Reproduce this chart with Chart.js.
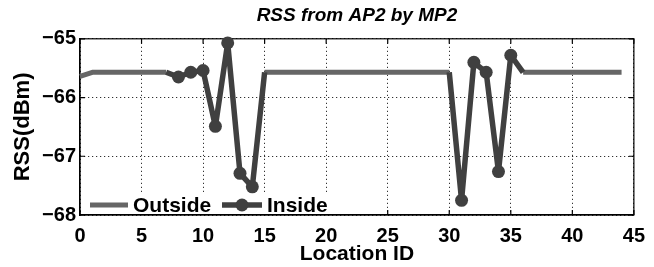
<!DOCTYPE html>
<html>
<head>
<meta charset="utf-8">
<script src="https://cdn.jsdelivr.net/npm/chart.js@4"></script>
<style>
  html, body { margin: 0; padding: 0; background: #fff; }
  #wrap { width: 654px; height: 267px; }
</style>
</head>
<body>
<div id="wrap"><canvas id="rssChart"></canvas></div>
<script>
// Location IDs 0..44
const locationIds = [0, 1, 2, 3, 4, 5, 6, 7, 8, 9, 10, 11, 12, 13, 14, 15, 16, 17, 18, 19, 20, 21,
    22, 23, 24, 25, 26, 27, 28, 29, 30, 31, 32, 33, 34, 35, 36, 37, 38, 39, 40, 41, 42, 43, 44];

const outsideRss = [-65.64, -65.57, -65.57, -65.57, -65.57, -65.57, -65.57, -65.57,
    null, null, null, null, null, null, null,
    -65.57, -65.57, -65.57, -65.57, -65.57, -65.57, -65.57, -65.57, -65.57, -65.57, -65.57,
    -65.57, -65.57, -65.57, -65.57, -65.57,
    null, null, null, null, null,
    -65.57, -65.57, -65.57, -65.57, -65.57, -65.57, -65.57, -65.57, -65.57];

const insideRss = [null, null, null, null, null, null, null,
    -65.57, -65.65, -65.57, -65.54, -66.49, -65.07, -67.29, -67.52, -65.57,
    null, null, null, null, null, null, null, null, null, null, null, null, null, null,
    -65.57, -67.75, -65.40, -65.57, -67.26, -65.28, -65.57,
    null, null, null, null, null, null, null, null];

const xTicks = [0, 5, 10, 15, 20, 25, 30, 35, 40, 45];
const yTicks = [-68, -67, -66, -65];

Chart.defaults.font.family = '"Liberation Sans", Arial, Helvetica, sans-serif';
Chart.defaults.color = '#000';

// caja completa con marcas hacia dentro (estilo Matlab)
const framePlugin = {
    id: 'frame',
    beforeDatasetsDraw(chart) {
        const { ctx, chartArea: a, scales } = chart;
        ctx.save();
        ctx.strokeStyle = '#000';
        ctx.lineWidth = 1.2;
        ctx.strokeRect(a.left, a.top, a.right - a.left, a.bottom - a.top);
        ctx.beginPath();
        xTicks.forEach(v => {
            const x = scales.x.getPixelForValue(v);
            ctx.moveTo(x, a.bottom); ctx.lineTo(x, a.bottom - 5);
            ctx.moveTo(x, a.top); ctx.lineTo(x, a.top + 5);
        });
        yTicks.forEach(v => {
            const y = scales.y.getPixelForValue(v);
            ctx.moveTo(a.left, y); ctx.lineTo(a.left + 5, y);
            ctx.moveTo(a.right, y); ctx.lineTo(a.right - 5, y);
        });
        ctx.stroke();
        ctx.restore();
    }
};

// leyenda dentro del área, abajo a la izquierda
const legendPlugin = {
    id: 'insideLegend',
    afterDatasetsDraw(chart) {
        const { ctx, chartArea: a } = chart;
        const [outside, inside] = chart.data.datasets;
        const y = a.bottom - 10;
        ctx.save();
        ctx.fillStyle = '#fff';
        ctx.fillRect(a.left + 2, y - 11, 248, 20);
        ctx.lineCap = 'butt';

        ctx.strokeStyle = outside.borderColor;
        ctx.lineWidth = outside.borderWidth;
        ctx.beginPath();
        ctx.moveTo(a.left + 10, y); ctx.lineTo(a.left + 48, y);
        ctx.stroke();

        ctx.strokeStyle = inside.borderColor;
        ctx.lineWidth = inside.borderWidth;
        ctx.beginPath();
        ctx.moveTo(a.left + 142, y); ctx.lineTo(a.left + 182, y);
        ctx.stroke();
        ctx.fillStyle = inside.pointBackgroundColor;
        ctx.beginPath();
        ctx.arc(a.left + 162, y, 6.5, 0, Math.PI * 2);
        ctx.fill();

        ctx.fillStyle = '#000';
        ctx.font = 'bold 21px "Liberation Sans", Arial, sans-serif';
        ctx.textBaseline = 'middle';
        ctx.fillText(outside.label, a.left + 53, y + 1);
        ctx.fillText(inside.label, a.left + 187, y + 1);
        ctx.restore();
    }
};

const toPoints = arr => arr.map((v, i) => ({ x: locationIds[i], y: v }));

const rssChart = new Chart(document.getElementById('rssChart'), {
    type: 'line',
    data: {
        datasets: [{
            label: 'Outside',
            data: toPoints(outsideRss),
            borderColor: 'rgb(102, 102, 102)',
            borderWidth: 5,
            borderJoinStyle: 'round',
            pointRadius: 0,
            spanGaps: false,
            order: 1,
            clip: false,
        }, {
            label: 'Inside',
            data: toPoints(insideRss),
            borderColor: 'rgb(64, 64, 64)',
            pointBackgroundColor: 'rgb(64, 64, 64)',
            pointBorderColor: 'rgb(64, 64, 64)',
            borderWidth: 5.5,
            borderJoinStyle: 'round',
            pointRadius: ctx => outsideRss[ctx.dataIndex] === null ? 6.5 : 0,
            pointBorderWidth: 0,
            spanGaps: false,
            order: 0,
            clip: false,
        }]
    },
    options: {
        responsive: true,
        maintainAspectRatio: false,
        animation: false,
        layout: { padding: { left: 0, right: 12, top: 0, bottom: 0 } },
        plugins: {
            legend: { display: false },
            tooltip: { enabled: false },
            title: {
                display: true,
                text: 'RSS from AP2 by MP2',
                fullSize: false,
                color: '#000',
                font: { size: 19, weight: 'bold', style: 'italic' },
                padding: { top: 4, bottom: 12 }
            }
        },
        scales: {
            x: {
                type: 'linear',
                min: 0,
                max: 45,
                afterBuildTicks: s => { s.ticks = xTicks.map(v => ({ value: v })); },
                afterFit: s => { s.height = 52; },
                grid: { color: '#000', lineWidth: 1, drawTicks: false },
                border: { display: true, color: '#000', width: 1.2, dash: [1, 3] },
                ticks: { color: '#000', font: { size: 20, weight: 'bold' }, padding: 9, maxRotation: 0 },
                title: {
                    display: true, text: 'Location ID', color: '#000',
                    font: { size: 21, weight: 'bold' }, padding: { top: 0, bottom: 0 }
                }
            },
            y: {
                min: -68,
                max: -65,
                afterBuildTicks: s => { s.ticks = yTicks.map(v => ({ value: v })); },
                afterFit: s => { s.width = 80; },
                grid: { color: '#000', lineWidth: 1, drawTicks: false },
                border: { display: true, color: '#000', width: 1.2, dash: [1, 3] },
                ticks: {
                    color: '#000', font: { size: 20, weight: 'bold' }, padding: 4,
                    callback: v => '\u2212' + Math.abs(v)
                },
                title: {
                    display: true, text: 'RSS(dBm)', color: '#000',
                    font: { size: 22, weight: 'bold' }, padding: { top: 10, bottom: 0 }
                }
            }
        }
    },
    plugins: [framePlugin, legendPlugin]
});
</script>
</body>
</html>
